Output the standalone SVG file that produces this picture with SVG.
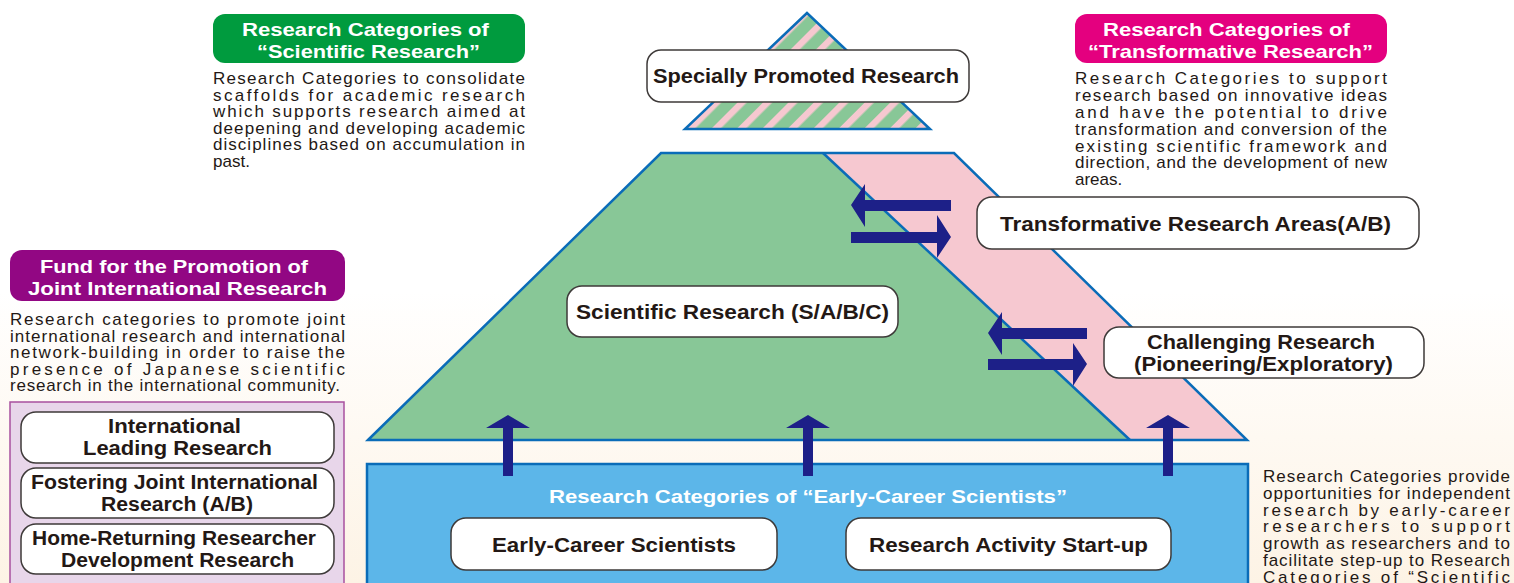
<svg xmlns="http://www.w3.org/2000/svg" width="1514" height="583" viewBox="0 0 1514 583">
<defs>
<linearGradient id="bg" x1="0" y1="0" x2="0" y2="583" gradientUnits="userSpaceOnUse">
<stop offset="0.5" stop-color="#ffffff"/>
<stop offset="1" stop-color="#fdf3e5"/>
</linearGradient>
<pattern id="stripes" width="18" height="18" patternUnits="userSpaceOnUse" patternTransform="rotate(45)">
<rect width="18" height="18" fill="#88c797"/>
<rect x="0" y="0" width="6.5" height="18" fill="#f6c8d0"/>
</pattern>
<style>
.lbl{font-family:"Liberation Sans",Arial,sans-serif;font-weight:bold;font-size:20px;fill:#231815}
.hdr{font-family:"Liberation Sans",Arial,sans-serif;font-weight:bold;font-size:18.5px;fill:#ffffff}
.desc{font-family:"Liberation Sans",Arial,sans-serif;font-size:17px;fill:#231815}
.box{fill:#ffffff;stroke:#3e3a39;stroke-width:1.5}
.arrow{fill:#1d2088}
</style>
</defs>
<rect width="1514" height="583" fill="url(#bg)"/>

<!-- pyramid shapes -->
<g id="pyramid">
<polygon points="368,440 661,153 823,153 1130,440" fill="#88c797"/>
<polygon points="823,153 954,153 1247,440 1130,440" fill="#f6c8d0"/>
<polygon points="368,440 661,153 954,153 1247,440" fill="none" stroke="#0a6cb8" stroke-width="2.5" stroke-linejoin="miter"/>
<line x1="823" y1="153" x2="1130" y2="440" stroke="#0a6cb8" stroke-width="2.5"/>
<polygon points="807,13 685,129 930,129" fill="url(#stripes)" stroke="#0a6cb8" stroke-width="2.5"/>
</g>

<!-- early-career box -->
<g id="early-career">
<rect x="367" y="464" width="881" height="130" fill="#5cb6e9" stroke="#0a6cb8" stroke-width="2.5"/>
<text class="hdr" x="549" y="503" font-size="18" textLength="518" lengthAdjust="spacingAndGlyphs">Research Categories of “Early-Career Scientists”</text>
</g>

<!-- connectors -->
<g id="connectors">
<polygon class="arrow" points="508,415 530,428 513,428 513,476 503,476 503,428 486,428"/>
<polygon class="arrow" points="808,415 830,428 813,428 813,476 803,476 803,428 786,428"/>
<polygon class="arrow" points="1168,415 1190,428 1173,428 1173,476 1163,476 1163,428 1146,428"/>
<polygon class="arrow" points="851,205 865,184 865,200 951,200 951,211 865,211 865,227"/>
<polygon class="arrow" points="851,232 937,232 937,215 951,237 937,258 937,243 851,243"/>
<polygon class="arrow" points="988,333 1002,312 1002,328 1087,328 1087,339 1002,339 1002,355"/>
<polygon class="arrow" points="988,359 1073,359 1073,343 1087,364 1073,386 1073,370 988,370"/>
</g>

<g id="specially-promoted">
<rect class="box" x="647" y="50" width="322" height="52" rx="14"/>
<text class="lbl" x="653" y="83" textLength="306" lengthAdjust="spacingAndGlyphs">Specially Promoted Research</text>
</g>

<g id="scientific-research">
<rect class="box" x="567" y="286" width="331" height="51" rx="15"/>
<text class="lbl" x="576" y="319" textLength="313" lengthAdjust="spacingAndGlyphs">Scientific Research (S/A/B/C)</text>
</g>

<g id="transformative-areas">
<rect class="box" x="977" y="197" width="442" height="52" rx="15"/>
<text class="lbl" x="1000" y="231" textLength="391" lengthAdjust="spacingAndGlyphs">Transformative Research Areas(A/B)</text>
</g>

<g id="challenging-research">
<rect class="box" x="1104" y="327" width="320" height="51" rx="15"/>
<text class="lbl" x="1147" y="349" textLength="228" lengthAdjust="spacingAndGlyphs">Challenging Research</text>
<text class="lbl" x="1134" y="371" textLength="259" lengthAdjust="spacingAndGlyphs">(Pioneering/Exploratory)</text>
</g>

<g id="early-career-scientists">
<rect class="box" x="451" y="518" width="326" height="52" rx="15"/>
<text class="lbl" x="492" y="552" textLength="244" lengthAdjust="spacingAndGlyphs">Early-Career Scientists</text>
</g>

<g id="research-activity-startup">
<rect class="box" x="846" y="518" width="325" height="52" rx="15"/>
<text class="lbl" x="869" y="552" textLength="279" lengthAdjust="spacingAndGlyphs">Research Activity Start-up</text>
</g>

<!-- Scientific header & description -->
<g id="scientific-header">
<rect x="213" y="14" width="312" height="49" rx="12" fill="#009b3e"/>
<text class="hdr" x="242" y="36" textLength="247" lengthAdjust="spacingAndGlyphs">Research Categories of</text>
<text class="hdr" x="257" y="58" textLength="223" lengthAdjust="spacingAndGlyphs">“Scientific Research”</text>
</g>
<g id="scientific-desc" class="desc">
<text x="213" y="84" textLength="312" lengthAdjust="spacing">Research Categories to consolidate</text>
<text x="213" y="100.6" textLength="312" lengthAdjust="spacing">scaffolds for academic research</text>
<text x="213" y="117.2" textLength="312" lengthAdjust="spacing">which supports research aimed at</text>
<text x="213" y="133.8" textLength="312" lengthAdjust="spacing">deepening and developing academic</text>
<text x="213" y="150.4" textLength="312" lengthAdjust="spacing">disciplines based on accumulation in</text>
<text x="213" y="167">past.</text>
</g>

<!-- Transformative header & description -->
<g id="transformative-header">
<rect x="1075" y="14" width="312" height="49" rx="12" fill="#e4007f"/>
<text class="hdr" x="1103" y="36" textLength="247" lengthAdjust="spacingAndGlyphs">Research Categories of</text>
<text class="hdr" x="1088" y="58" textLength="285" lengthAdjust="spacingAndGlyphs">“Transformative Research”</text>
</g>
<g id="transformative-desc" class="desc">
<text x="1075" y="84.3" textLength="312" lengthAdjust="spacing">Research Categories to support</text>
<text x="1075" y="101.1" textLength="312" lengthAdjust="spacing">research based on innovative ideas</text>
<text x="1075" y="117.9" textLength="312" lengthAdjust="spacing">and have the potential to drive</text>
<text x="1075" y="134.7" textLength="312" lengthAdjust="spacing">transformation and conversion of the</text>
<text x="1075" y="151.5" textLength="312" lengthAdjust="spacing">existing scientific framework and</text>
<text x="1075" y="168.3" textLength="312" lengthAdjust="spacing">direction, and the development of new</text>
<text x="1075" y="185.1">areas.</text>
</g>

<!-- Fund header & description -->
<g id="fund-header">
<rect x="10" y="250" width="335" height="51" rx="12" fill="#920783"/>
<text class="hdr" x="40" y="273" textLength="268" lengthAdjust="spacingAndGlyphs">Fund for the Promotion of</text>
<text class="hdr" x="28" y="295" textLength="299" lengthAdjust="spacingAndGlyphs">Joint International Research</text>
</g>
<g id="fund-desc" class="desc">
<text x="10" y="325" textLength="335" lengthAdjust="spacing">Research categories to promote joint</text>
<text x="10" y="341.5" textLength="335" lengthAdjust="spacing">international research and international</text>
<text x="10" y="358" textLength="335" lengthAdjust="spacing">network-building in order to raise the</text>
<text x="10" y="374.5" textLength="335" lengthAdjust="spacing">presence of Japanese scientific</text>
<text x="10" y="391" textLength="330" lengthAdjust="spacing">research in the international community.</text>
</g>

<g id="fund-panel">
<rect x="10" y="402" width="334" height="200" fill="#e8d6ea" stroke="#a8509f" stroke-width="1.5"/>
</g>
<g id="international-leading">
<rect class="box" x="21" y="412" width="313" height="51" rx="15"/>
<text class="lbl" x="108" y="433" textLength="133" lengthAdjust="spacingAndGlyphs">International</text>
<text class="lbl" x="83" y="455" textLength="189" lengthAdjust="spacingAndGlyphs">Leading Research</text>
</g>
<g id="fostering-joint">
<rect class="box" x="21" y="468" width="313" height="50" rx="15"/>
<text class="lbl" x="31" y="489" textLength="287" lengthAdjust="spacingAndGlyphs">Fostering Joint International</text>
<text class="lbl" x="101" y="511" textLength="152" lengthAdjust="spacingAndGlyphs">Research (A/B)</text>
</g>
<g id="home-returning">
<rect class="box" x="21" y="524" width="313" height="50" rx="15"/>
<text class="lbl" x="32" y="545" textLength="284" lengthAdjust="spacingAndGlyphs">Home-Returning Researcher</text>
<text class="lbl" x="61" y="567" textLength="233" lengthAdjust="spacingAndGlyphs">Development Research</text>
</g>

<!-- Early-career description -->
<g id="early-career-desc" class="desc">
<text x="1263" y="482" textLength="247" lengthAdjust="spacing">Research Categories provide</text>
<text x="1263" y="498.8" textLength="247" lengthAdjust="spacing">opportunities for independent</text>
<text x="1263" y="515.6" textLength="247" lengthAdjust="spacing">research by early-career</text>
<text x="1263" y="532.4" textLength="247" lengthAdjust="spacing">researchers to support</text>
<text x="1263" y="549.2" textLength="247" lengthAdjust="spacing">growth as researchers and to</text>
<text x="1263" y="566" textLength="247" lengthAdjust="spacing">facilitate step-up to Research</text>
<text x="1263" y="582.8" textLength="247" lengthAdjust="spacing">Categories of “Scientific</text>
</g>
</svg>
